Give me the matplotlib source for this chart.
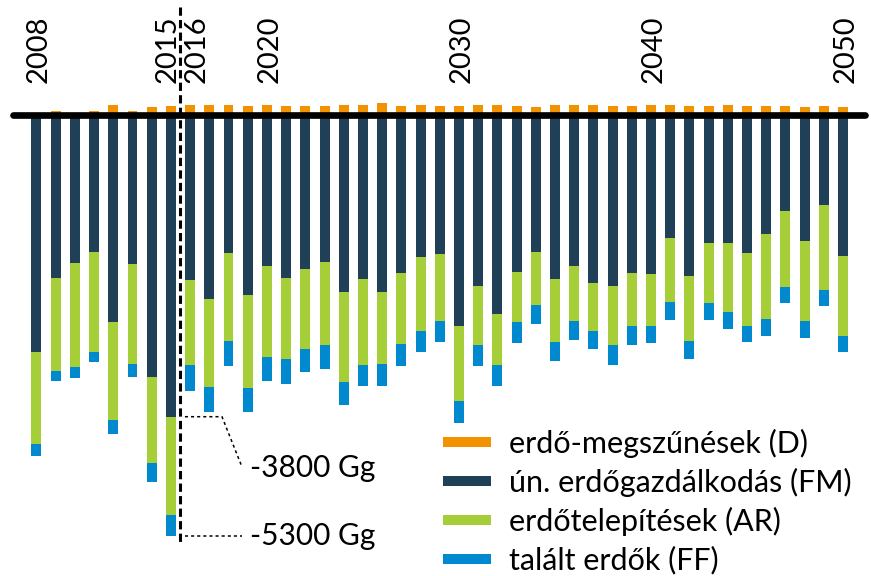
import matplotlib
matplotlib.use("Agg")
import matplotlib.pyplot as plt
from matplotlib.lines import Line2D
import numpy as np

plt.rcParams['font.family'] = ['Lato', 'DejaVu Sans']

# ---- data (Gg CO2-eq; sinks negative) ----
years = list(range(2008, 2051))
D = [10, 50, 10, 50, 120, 50, 90, 105, 125, 125, 125, 105, 125, 105, 105, 105,
     125, 125, 140, 105, 125, 105, 105, 125, 125, 105, 90, 125, 125, 125, 105,
     105, 125, 125, 105, 105, 125, 105, 105, 105, 90, 105, 90]
FM = [2980, 2060, 1865, 1725, 2605, 1884, 3297, 3800, 2081, 2320, 1738, 2270,
      1901, 2062, 1939, 1851, 2228, 2065, 2228, 1989, 1796, 1758, 2663, 2153,
      2512, 1977, 1725, 2065, 1901, 2122, 2153, 1989, 2006, 1557, 2031, 1612,
      1612, 1738, 1503, 1213, 1591, 1142, 1775]
AR = [1160, 1165, 1305, 1265, 1236, 1253, 1089, 1236, 1069, 1103, 1106, 1173,
      1144, 1016, 1013, 1047, 1139, 1085, 905, 893, 922, 835, 939, 745, 638,
      632, 670, 799, 692, 596, 745, 674, 657, 801, 813, 762, 871, 925, 1068,
      960, 1002, 1069, 1014]
FF = [160, 122, 142, 122, 176, 160, 231, 264, 323, 322, 318, 302, 302, 307,
      286, 306, 286, 268, 285, 284, 268, 268, 273, 268, 268, 268, 243, 232,
      246, 231, 252, 235, 214, 230, 234, 214, 218, 201, 218, 197, 214, 197, 201]
labeled_years = [2008, 2015, 2016, 2020, 2030, 2040, 2050]
series_labels = ["erdő-megszűnések (D)", "ún. erdőgazdálkodás (FM)",
                 "erdőtelepítések (AR)", "talált erdők (FF)"]
colors = ["#F39200", "#1F4057", "#A6CE39", "#0089CF"]
break_year = 2015.5
annot_year = 2015

x = np.array(years)
fm = -np.array(FM)
ar = -np.array(AR)
ff = -np.array(FF)

fig = plt.figure(figsize=(8.71, 5.76), dpi=100)
ax = fig.add_axes([0, 0, 1, 1])
ax.set_xlim(2006.10, 2051.46)
ax.set_ylim(-5803, 1440)
ax.axis('off')

w = 0.52
ax.bar(x, D, width=w, color=colors[0], zorder=2)
ax.bar(x, fm, width=w, color=colors[1], zorder=2)
ax.bar(x, ar, width=w, bottom=fm, color=colors[2], zorder=2)
ax.bar(x, ff, width=w, bottom=fm + ar, color=colors[3], zorder=2)

# zero line
ax.plot([2006.80, 2051.15], [0, 0], color='black', lw=4.8,
        solid_capstyle='round', zorder=3)

# dashed separator
ax.plot([break_year, break_year], [1352, -5413], color='black', lw=2.2,
        linestyle=(0, (2.7, 1.4)), zorder=4)

# year labels (pixel offsets)
offsets = {2015: -3, 2016: 7}
for yr in labeled_years:
    ax.annotate(str(yr), xy=(yr, 0),
                xytext=(offsets.get(yr, 2.5) * 0.72, 22.5),
                textcoords='offset points', rotation=90,
                ha='center', va='bottom', fontsize=21)

# annotations
i = years.index(annot_year)
v1 = fm[i]
v2 = fm[i] + ar[i] + ff[i]
x0 = break_year + 0.23
ax.plot([x0, break_year + 2.16, break_year + 3.2], [v1, v1, v1 - 630],
        color='black', lw=1.1, linestyle=(0, (2, 2)), zorder=4)
ax.text(break_year + 3.62, v1 - 650, f"{v1:.0f} Gg", fontsize=21.5,
        ha='left', va='center')
ax.plot([x0, break_year + 3.2], [v2, v2],
        color='black', lw=1.1, linestyle=(0, (2, 2)), zorder=4)
ax.text(break_year + 3.62, v2, f"{v2:.0f} Gg", fontsize=21.5,
        ha='left', va='center')

handles = [Line2D([0], [0], color=c, lw=7.2, solid_capstyle='butt') for c in colors]
ax.legend(handles, series_labels, loc='upper left',
          bbox_to_anchor=(443 / 871, 1 - 429 / 576), bbox_transform=fig.transFigure,
          frameon=False, fontsize=22, handlelength=1.57, handletextpad=0.59,
          labelspacing=0.32, borderpad=0, borderaxespad=0)

fig.savefig("out.png", dpi=100)
